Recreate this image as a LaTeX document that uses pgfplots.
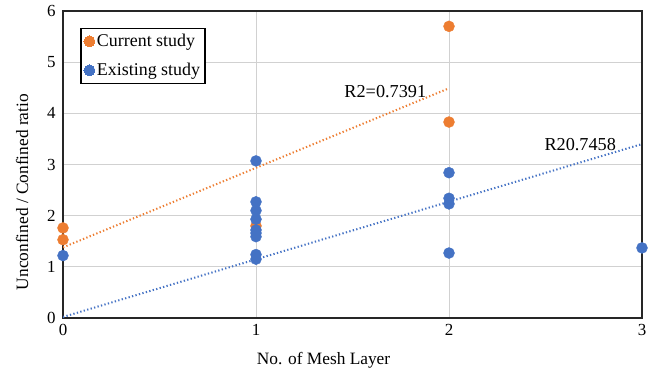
\documentclass[border=0pt]{standalone}
\usepackage{fontspec}
\setmainfont{Liberation Serif}
\usepackage{pgfplots}
\pgfplotsset{compat=1.18}
\definecolor{xlorange}{HTML}{ED7D31}
\definecolor{xlblue}{HTML}{4472C4}
\begin{document}
\begin{tikzpicture}
\useasboundingbox (-63bp,-56bp) rectangle (589bp,318bp);
\begin{axis}[
  at={(0,0)}, anchor=south west,
  scale only axis, width=579bp, height=307bp,
  xmin=0, xmax=3, ymin=0, ymax=6,
  xtick={0,1,2,3}, ytick={0,1,2,3,4,5,6},
  major tick length=0pt,
  grid=major, grid style={draw=black!18, line width=1bp},
  axis line style={draw=black!85, line width=1.4bp},
  /pgf/number format/assume math mode=true,
  tick label style={font=\fontsize{17}{20}\selectfont},
  xticklabel style={yshift=-3bp},
  yticklabel style={xshift=-4bp},
  xlabel={No. of Mesh Layer},
  ylabel={Unconfined / Confined ratio},
  label style={font=\fontsize{17.4}{20}\selectfont},
  xlabel style={at={(ticklabel cs:0.45)}, yshift=-10bp},
  ylabel style={at={(ticklabel cs:0.41)}, yshift=12bp},
  legend style={at={(0.03,0.945)}, anchor=north west, draw=black, line width=1.2bp,
    font=\fontsize{18}{21}\selectfont, inner xsep=3bp, inner ysep=4bp, row sep=11bp,
    legend cell align=left, /tikz/every even column/.append style={column sep=0bp}},
  legend image code/.code={\draw[#1, line width=0pt] plot coordinates {(0.1cm,0cm)};},
]
\addplot[xlorange, line width=2bp, dash pattern=on 1.3bp off 2.3bp, forget plot] coordinates {(0,1.38) (2,4.49)};
\addplot[xlblue, line width=2bp, dash pattern=on 1.3bp off 2.3bp, forget plot] coordinates {(0,0.02) (3,3.40)};
\addplot[only marks, mark=*, mark size=5.5bp, color=xlorange, mark options={draw=xlorange, fill=xlorange}]
  coordinates {(0,1.76) (0,1.53) (1,1.80) (2,5.70) (2,3.83)};
\addlegendentry{Current study}
\addplot[only marks, mark=*, mark size=5.5bp, color=xlblue, mark options={draw=xlblue, fill=xlblue}]
  coordinates {(0,1.22) (1,3.07) (1,2.27) (1,2.10) (1,1.93) (1,1.72) (1,1.66) (1,1.59) (1,1.24) (1,1.15)
   (2,2.84) (2,2.34) (2,2.23) (2,1.27) (3,1.37)};
\addlegendentry{Existing study}
\node[font=\fontsize{18.3}{21}\selectfont] at (axis cs:1.67,4.42) {R2=0.7391};
\node[font=\fontsize{18.3}{21}\selectfont] at (axis cs:2.68,3.39) {R20.7458};
\end{axis}
\end{tikzpicture}
\end{document}
